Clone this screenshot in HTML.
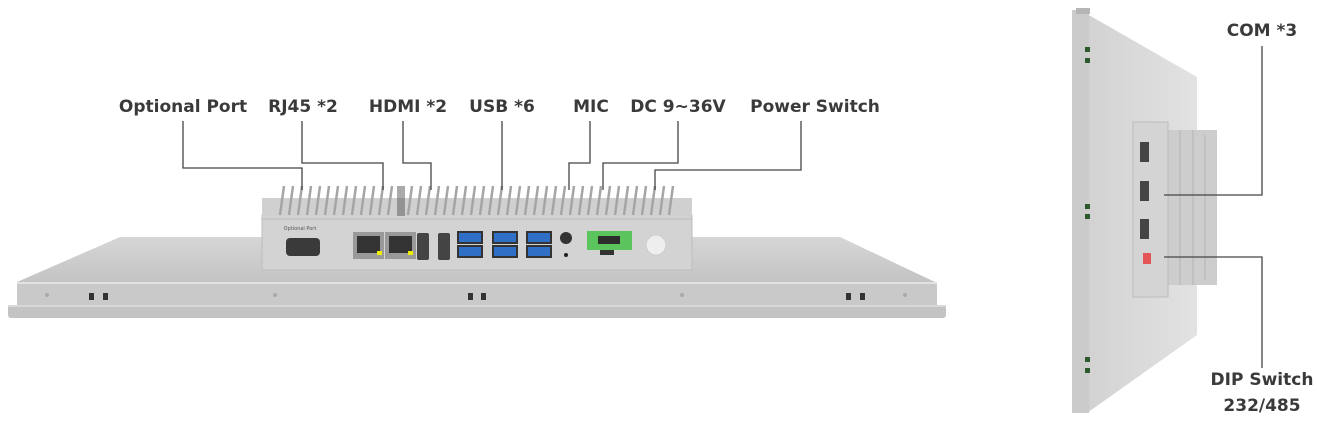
<!DOCTYPE html>
<html><head><meta charset="utf-8"><style>
body{margin:0;width:1317px;height:429px;background:#fff;position:relative;overflow:hidden;font-family:"DejaVu Sans","Liberation Sans",sans-serif}
.l{position:absolute;font-weight:bold;font-size:17px;color:#3a3a3a;white-space:nowrap;transform:translateX(-50%)}
.a{position:absolute}
</style></head><body>
<svg class="a" style="left:0;top:0" width="1317" height="429">
<defs><linearGradient id="pt" x1="0" y1="0" x2="0" y2="1"><stop offset="0" stop-color="#d6d6d6"/><stop offset="1" stop-color="#c4c4c4"/></linearGradient>
<linearGradient id="sp" x1="0" y1="0" x2="1" y2="0"><stop offset="0" stop-color="#d2d2d2"/><stop offset="1" stop-color="#e2e2e2"/></linearGradient></defs>
<polygon points="120,237 840,237 935,282 17,282" fill="url(#pt)"/>
<rect x="17" y="282" width="920" height="24" fill="#c9c9c9"/>
<rect x="17" y="282" width="920" height="2" fill="#e2e2e2"/>
<rect x="8" y="305" width="938" height="13" rx="3" fill="#c3c3c3"/>
<rect x="8" y="305" width="938" height="2" fill="#d8d8d8"/>
<g fill="#333"><rect x="89" y="293" width="5" height="7"/><rect x="103" y="293" width="5" height="7"/>
<rect x="468" y="293" width="5" height="7"/><rect x="481" y="293" width="5" height="7"/>
<rect x="846" y="293" width="5" height="7"/><rect x="860" y="293" width="5" height="7"/></g>
<g fill="#aaa"><circle cx="47" cy="295" r="2"/><circle cx="275" cy="295" r="2"/><circle cx="682" cy="295" r="2"/><circle cx="905" cy="295" r="2"/></g>
<rect x="262" y="215" width="430" height="55" fill="#d3d3d3" stroke="#bdbdbd"/>
<rect x="262" y="198" width="430" height="18" fill="#d0d0d0"/>
<g id="fins" stroke="#a5a5a5" stroke-width="2.5">
<path d="M280 215L284 186M289 215L293 186M298 215L302 186M307 215L311 186M316 215L320 186M325 215L329 186M334 215L338 186M343 215L347 186M352 215L356 186M361 215L365 186M370 215L374 186M379 215L383 186M388 215L392 186
M408 215L412 186M417 215L421 186M426 215L430 186M435 215L439 186M444 215L448 186M453 215L457 186M462 215L466 186M471 215L475 186M480 215L484 186M489 215L493 186M498 215L502 186M507 215L511 186M516 215L520 186M525 215L529 186M534 215L538 186M543 215L547 186M552 215L556 186M561 215L565 186M570 215L574 186M579 215L583 186M588 215L592 186M597 215L601 186M606 215L610 186M615 215L619 186M624 215L628 186M633 215L637 186M642 215L646 186M651 215L655 186M660 215L664 186M669 215L673 186"/></g>
<rect x="397" y="186" width="8" height="30" fill="#555" opacity="0.5"/>
<line x1="262" y1="219" x2="692" y2="219" stroke="#bbb"/>
<rect x="286" y="238" width="34" height="18" rx="4" fill="#3a3a3a"/>
<text x="300" y="230" font-size="5" text-anchor="middle" fill="#555">Optional Port</text>
<rect x="353" y="232" width="31" height="27" fill="#999"/><rect x="357" y="236" width="23" height="17" fill="#333"/>
<rect x="385" y="232" width="31" height="27" fill="#999"/><rect x="389" y="236" width="23" height="17" fill="#333"/>
<rect x="377" y="251" width="5" height="4" fill="#ee0"/><rect x="408" y="251" width="5" height="4" fill="#ee0"/>
<rect x="417" y="233" width="12" height="27" rx="2" fill="#444"/><rect x="438" y="233" width="12" height="27" rx="2" fill="#444"/>
<g fill="#2f6fc6" stroke="#333" stroke-width="2"><rect x="458" y="232" width="24" height="11"/><rect x="458" y="246" width="24" height="11"/>
<rect x="493" y="232" width="24" height="11"/><rect x="493" y="246" width="24" height="11"/>
<rect x="527" y="232" width="24" height="11"/><rect x="527" y="246" width="24" height="11"/></g>
<circle cx="566" cy="238" r="6" fill="#333"/><circle cx="566" cy="255" r="2" fill="#222"/>
<rect x="587" y="231" width="45" height="19" fill="#5cc45c"/><rect x="598" y="236" width="22" height="8" fill="#2c2c2c"/><rect x="600" y="250" width="14" height="5" fill="#333"/>
<circle cx="656" cy="245" r="10" fill="#eee" stroke="#ccc"/>
<polygon points="1087,14 1197,77 1197,335 1087,413" fill="url(#sp)"/>
<rect x="1072" y="10" width="17" height="403" fill="#cbcbcb"/><rect x="1076" y="8" width="14" height="6" fill="#b5b5b5"/>
<g fill="#2d5a2d"><rect x="1085" y="47" width="5" height="5"/><rect x="1085" y="58" width="5" height="5"/><rect x="1085" y="204" width="5" height="5"/><rect x="1085" y="214" width="5" height="5"/><rect x="1085" y="357" width="5" height="5"/><rect x="1085" y="368" width="5" height="5"/></g>
<rect x="1165" y="130" width="52" height="155" fill="#cdcdcd"/>
<g stroke="#b3b3b3"><line x1="1180" y1="130" x2="1180" y2="285"/><line x1="1193" y1="130" x2="1193" y2="285"/><line x1="1205" y1="135" x2="1205" y2="280"/></g>
<rect x="1133" y="122" width="35" height="175" fill="#d4d4d4" stroke="#bbb"/>
<g fill="#444"><rect x="1140" y="142" width="9" height="20"/><rect x="1140" y="181" width="9" height="20"/><rect x="1140" y="219" width="9" height="20"/></g>
<rect x="1143" y="253" width="8" height="11" fill="#e45555"/>
<g stroke="#444" stroke-width="1.3" fill="none">
<path d="M183 121V168H302V190"/><path d="M302 121V163H383V190"/><path d="M403 121V163H431V190"/>
<path d="M502 121V190"/><path d="M590 121V163H569V190"/><path d="M678 121V163H603V190"/>
<path d="M801 121V170H655V190"/>
<path d="M1262 46V195H1164"/><path d="M1164 257H1262V368"/></g>
</svg>
<div class="l" style="left:183px;top:97px">Optional Port</div>
<div class="l" style="left:303px;top:97px">RJ45 *2</div>
<div class="l" style="left:408px;top:97px">HDMI *2</div>
<div class="l" style="left:502px;top:97px">USB *6</div>
<div class="l" style="left:591px;top:97px">MIC</div>
<div class="l" style="left:678px;top:97px">DC 9~36V</div>
<div class="l" style="left:815px;top:97px">Power Switch</div>
<div class="l" style="left:1262px;top:21px">COM *3</div>
<div class="l" style="left:1262px;top:370px">DIP Switch</div>
<div class="l" style="left:1262px;top:396px">232/485</div>
</body></html>
